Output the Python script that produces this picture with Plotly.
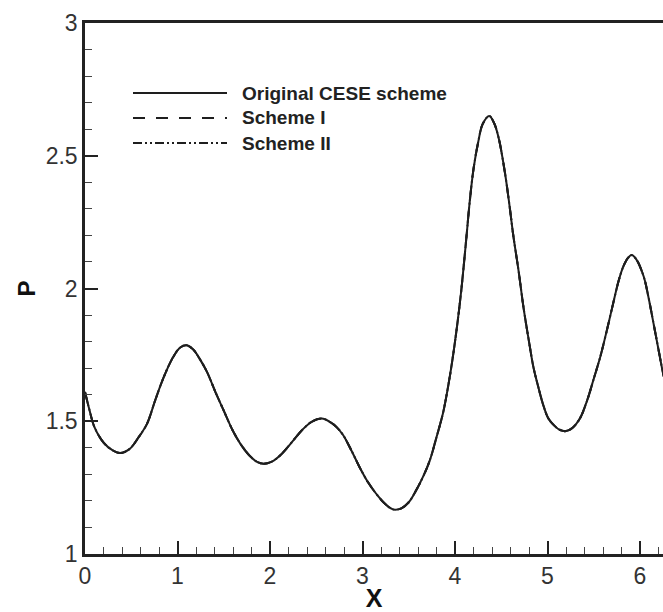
import plotly.graph_objects as go

# Pressure profile P(x) sampled along the domain
x_vals = [0.00, 0.05, 0.10, 0.20, 0.30, 0.38, 0.48, 0.58, 0.67, 0.76, 0.85, 0.95,
          1.03, 1.10, 1.17, 1.24, 1.32, 1.41, 1.50, 1.59, 1.68, 1.78, 1.86, 1.93,
          2.02, 2.12, 2.25, 2.35, 2.45, 2.56, 2.65, 2.72, 2.79, 2.88, 2.97, 3.06,
          3.15, 3.24, 3.33, 3.42, 3.50, 3.58, 3.66, 3.73, 3.80, 3.87, 3.93, 3.98,
          4.03, 4.07, 4.12, 4.16, 4.20, 4.25, 4.30, 4.37, 4.42, 4.47, 4.54, 4.59,
          4.63, 4.69, 4.74, 4.80, 4.85, 4.90, 4.955, 5.01, 5.07, 5.13, 5.20, 5.27,
          5.35, 5.43, 5.50, 5.57, 5.64, 5.71, 5.77, 5.82, 5.87, 5.91, 5.96, 6.04,
          6.09, 6.14, 6.20, 6.25, 6.28]

p_original = [1.61, 1.54, 1.48, 1.42, 1.39, 1.38, 1.395, 1.44, 1.49, 1.58, 1.665, 1.74,
              1.778, 1.786, 1.77, 1.735, 1.685, 1.61, 1.54, 1.47, 1.415, 1.37, 1.347, 1.34,
              1.348, 1.375, 1.427, 1.468, 1.498, 1.51, 1.497, 1.478, 1.448, 1.39, 1.326, 1.27,
              1.226, 1.19, 1.168, 1.172, 1.195, 1.24, 1.295, 1.355, 1.44, 1.53, 1.64, 1.75,
              1.88, 2.00, 2.18, 2.33, 2.45, 2.55, 2.62, 2.65, 2.625, 2.57, 2.436, 2.31,
              2.20, 2.06, 1.93, 1.80, 1.70, 1.63, 1.56, 1.51, 1.485, 1.468, 1.463, 1.475,
              1.51, 1.58, 1.66, 1.742, 1.84, 1.944, 2.03, 2.083, 2.115, 2.126, 2.11, 2.045,
              1.97, 1.88, 1.77, 1.68, 1.64]
p_scheme1 = list(p_original)
p_scheme2 = list(p_original)

series_names = ["Original CESE scheme", "Scheme I", "Scheme II"]
x_ticks = [0, 1, 2, 3, 4, 5, 6]
y_ticks = [1, 1.5, 2, 2.5, 3]
y_tick_text = ["1", "1.5", "2", "2.5", "3"]

W, H = 663, 612
ML, MR, MT, MB = 85, 0, 23, 58
plot_w = W - ML - MR
plot_h = H - MT - MB

line_color = "#1e1e1e"
dashes = ["solid", "12px,11px", "9px,3px,2px,3px,2px,3px"]

fig = go.Figure()
for name, ys, dash in reversed(list(zip(series_names, [p_original, p_scheme1, p_scheme2], dashes))):
    fig.add_trace(go.Scatter(x=x_vals, y=ys, mode="lines", name=name,
                             line=dict(color=line_color, width=2, dash=dash, shape="spline", smoothing=1.0),
                             showlegend=False))

# Legend drawn as line samples with labels
def px_to_paper_x(px):
    return (px - ML) / plot_w

def px_to_paper_y(py):
    return (H - MB - py) / plot_h

rows_y = [93, 118, 143]
for name, dash, ry in zip(series_names, dashes, rows_y):
    fig.add_shape(type="line", xref="paper", yref="paper",
                  x0=px_to_paper_x(133), x1=px_to_paper_x(227),
                  y0=px_to_paper_y(ry), y1=px_to_paper_y(ry),
                  line=dict(color=line_color, width=2, dash=dash))
    fig.add_annotation(xref="paper", yref="paper", x=px_to_paper_x(240), y=px_to_paper_y(ry),
                       text="<b>" + name + "</b>", showarrow=False, xanchor="left", yanchor="middle",
                       font=dict(family="Liberation Sans", size=19, color="#222"))

tick_font = dict(family="Liberation Sans", size=23, color="#333")
fig.update_xaxes(range=[0, plot_w / 92.5], tickvals=x_ticks, ticktext=[str(t) for t in x_ticks],
                 showline=True, linecolor="#222", linewidth=2.5, mirror=True,
                 ticks="inside", ticklen=13, tickwidth=1.5, tickcolor="#222",
                 minor=dict(dtick=0.2, ticks="inside", ticklen=7, tickwidth=1.2, tickcolor="#444"),
                 showgrid=False, zeroline=False, tickfont=tick_font,
                 title=dict(text="<b>X</b>", font=dict(family="Liberation Sans", size=25, color="#111"), standoff=0))
fig.update_yaxes(range=[1, 3], tickvals=y_ticks, ticktext=y_tick_text,
                 showline=True, linecolor="#222", linewidth=2.5, mirror=False,
                 ticks="inside", ticklen=13, tickwidth=1.5, tickcolor="#222",
                 minor=dict(dtick=0.1, ticks="inside", ticklen=7, tickwidth=1.2, tickcolor="#444"),
                 showgrid=False, zeroline=False, tickfont=tick_font,
                 title=dict(text="<b>P</b>", font=dict(family="Liberation Sans", size=24, color="#111"), standoff=4))

fig.update_layout(width=W, height=H, margin=dict(l=ML, r=MR, t=MT, b=MB),
                  paper_bgcolor="white", plot_bgcolor="white")

fig.write_html("out.html")
